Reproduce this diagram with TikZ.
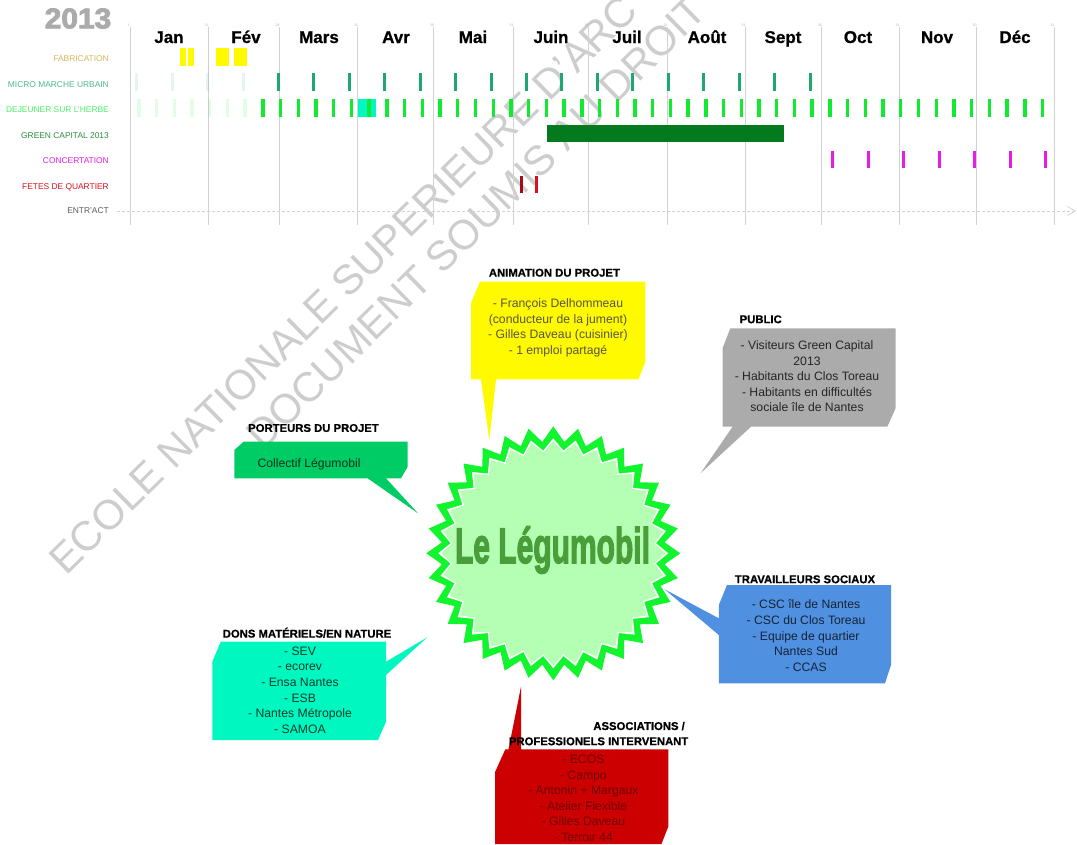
\documentclass[tikz,border=0pt]{standalone}
\usepackage{fontspec}
\setmainfont{Liberation Sans}
\newfontfamily\heavyfont[BoldFeatures={FakeBold=3}]{Liberation Sans}
\newfontfamily\titlefont[BoldFeatures={FakeBold=0.8}]{Liberation Sans}
\usetikzlibrary{shapes.geometric,arrows.meta}

\definecolor{gridgray}{HTML}{D2D2D2}
\definecolor{markgray}{HTML}{CDCDCD}
\definecolor{fabyellow}{HTML}{FFFA00}
\definecolor{fabtan}{HTML}{D4B85A}
\definecolor{microgreen}{HTML}{1EA870}
\definecolor{herbegreen}{HTML}{12EA32}
\definecolor{capitalgreen}{HTML}{047A1E}
\definecolor{concertpink}{HTML}{E81CE8}
\definecolor{festred}{HTML}{D81020}
\definecolor{aqua}{HTML}{00F8C0}
\definecolor{boxgray}{HTML}{ABABAB}
\definecolor{boxgreen}{HTML}{00CC66}
\definecolor{boxblue}{HTML}{5090E0}
\definecolor{boxred}{HTML}{CC0000}
\definecolor{starlight}{HTML}{B4FFB4}
\definecolor{starline}{HTML}{12F52E}
\definecolor{starname}{HTML}{4A9E3A}

\tikzset{
  rowlabel/.style={anchor=east,font=\fontsize{8.4}{9}\selectfont,inner sep=0pt},
  month/.style={anchor=base,font=\titlefont\fontsize{17}{18}\selectfont\bfseries,inner sep=0pt},
  daynum/.style={font=\fontsize{3.5}{4}\selectfont,text=gray!60,inner sep=0pt},
  boxtitle/.style={font=\titlefont\fontsize{11.3}{12}\selectfont\bfseries,inner sep=0pt},
  boxline/.style={anchor=base,font=\fontsize{12.2}{13}\selectfont,inner sep=0pt},
  watermark/.style={font=\fontsize{41.5}{43}\selectfont,text=markgray,rotate=44.5,anchor=base west,inner sep=0pt},
  burst/.style={star,star points=32,inner sep=0pt},
}

\begin{document}
\begin{tikzpicture}[x=1pt,y=-1pt]
        \useasboundingbox (0,0) rectangle (1077,844);
        % filigrane
        \node[watermark] (markA) at (66,577) {ECOLE NATIONALE SUPERIEURE D'ARC};
        \node[watermark] (markB) at (263,452) {DOCUMENT SOUMIS AU DROIT};

        % calendrier
        \node[font=\heavyfont\fontsize{28.5}{30}\selectfont\bfseries,text=boxgray,inner sep=0pt] (year) at (78,18.5) {\scalebox{1.05}[1]{2013}};
        \foreach \x/\d in {130/1,208/31,279/28,357.5/31,433.5/30,513/31,588/30,667/31,745/31,821.5/30,899/31,976/30,1054/31}{
                \draw[gridgray,line width=0.8pt] (\x,27) -- (\x,225);
                \node[daynum] at (\x-1.5,25) {\d};
        }
        \foreach \x/\m in {169/Jan,246/Fév,319/Mars,396/Avr,473/Mai,551/Juin,627/Juil,707/Août,783/Sept,858/Oct,937/Nov,1015/Déc}
                \node[month] (m\m) at (\x,43) {\m};

        \node[rowlabel,text=fabtan] (fab) at (109,59) {FABRICATION};
        \node[rowlabel,text=microgreen!80!white] (micro) at (109,85) {MICRO MARCHE URBAIN};
        \node[rowlabel,text=herbegreen!75!white] (herbe) at (109,110) {DEJEUNER SUR L'HERBE};
        \node[rowlabel,text=capitalgreen!85!white] (capital) at (109,136) {GREEN CAPITAL 2013};
        \node[rowlabel,text=concertpink] (concert) at (109,161) {CONCERTATION};
        \node[rowlabel,text=festred] (fetes) at (109,187) {FETES DE QUARTIER};
        \node[rowlabel,text=black!65] (entract) at (109,211) {ENTR'ACT};

        \fill[fabyellow] (180,48) rectangle (186.2,66);
        \fill[fabyellow] (188,48) rectangle (194,66);
        \fill[fabyellow] (215.5,48) rectangle (229,66);
        \fill[fabyellow] (234,48) rectangle (247,66);

        \foreach \n in {0,...,19}{
                \pgfmathsetmacro\x{136.7+35.44*\n}
                \ifnum\n<4
                        \fill[microgreen,opacity=0.12] (\x-1.5,73) rectangle (\x+1.5,91);
                \else
                        \fill[microgreen] (\x-1.5,73) rectangle (\x+1.5,91);
                \fi
        }
        \fill[aqua] (358,99) rectangle (375.5,117);
        \foreach \n in {0,...,51}{
                \pgfmathsetmacro\x{138.8+17.72*\n}
                \ifnum\n<7
                        \fill[herbegreen,opacity=0.12] (\x-1.7,99) rectangle (\x+1.7,117);
                \else
                        \fill[herbegreen] (\x-1.7,99) rectangle (\x+1.7,117);
                \fi
        }
        \fill[capitalgreen] (547.3,125) rectangle (783.5,142);
        \foreach \x in {832,868,903,939,974,1010,1045}
                \fill[concertpink] (\x-1.5,150.5) rectangle (\x+1.5,167.5);
        \fill[festred!75!black] (519.5,176) rectangle (522.5,193);
        \fill[festred] (534.7,176) rectangle (537.5,193);
        \coordinate (dashA) at (117,211);
        \coordinate (dashB) at (1076,211);
        \draw[-{Straight Barb[length=8pt,width=9pt]},gridgray,densely dashed,line width=0.7pt] (dashA) -- (dashB);

        % etoile
        \node[burst,fill=starline,minimum size=254pt,star point ratio=1.135] (hub) at (553.3,553.3) {};
        \node[burst,fill=white,minimum size=230pt,star point ratio=1.115] (hubA) at (hub) {};
        \node[burst,fill=starlight,minimum size=224pt,star point ratio=1.105] (hubB) at (hub) {};
        \node[text=starname,font=\heavyfont\fontsize{50}{52}\selectfont\bfseries,inner sep=0pt] (name) at (552.5,550) {\scalebox{.6}[1]{Le Légumobil}};

        % bulles
        \fill[fabyellow] (480,281.7) -- (645.4,281.7) -- (645.4,361.7) -- (638.5,379.3) -- (496,379.3) -- (489.3,440) -- (481,379.3) -- (471,379.3) -- (471,303) -- cycle;
        \fill[boxgray] (730.3,328.3) -- (895.6,328.3) -- (895.6,408.3) -- (887.3,426.7) -- (751,426.7) -- (700.5,473.3) -- (732.6,426.7) -- (722.5,426.7) -- (722.5,348.3) -- cycle;
        \fill[boxgreen] (243.6,441.7) -- (407.5,441.7) -- (407.5,467) -- (401,478.3) -- (386,478.3) -- (418,513.3) -- (367.6,478.3) -- (234.4,478.3) -- (234.4,450) -- cycle;
        \fill[aqua] (220.7,641.7) -- (386,641.7) -- (386,661.7) -- (427.3,637.3) -- (386,675) -- (386,721.7) -- (378,740) -- (212.4,740) -- (212.4,661.7) -- cycle;
        \fill[boxblue] (727,585) -- (891,585) -- (891,665) -- (885,683.3) -- (718.8,683.3) -- (718.8,635) -- (664.6,589.3) -- (718.8,618.3) -- (718.8,605) -- cycle;
        \fill[boxred] (505.3,749.3) -- (508.5,749.3) -- (521,686.7) -- (521,749.3) -- (668.3,749.3) -- (668.3,826.7) -- (661.4,844) -- (495.2,844) -- (495.2,771.7) -- cycle;

        \node[boxtitle] (animT) at (554.4,272.7) {ANIMATION DU PROJET};
        \foreach \y/\t in {307.3/- François Delhommeau,323/(conducteur de la jument),338.7/- Gilles Daveau (cuisinier),354.3/- 1 emploi partagé}
                \node[boxline,text=black!75!yellow] at (558,\y) {\t};

        \node[boxtitle,anchor=west] (pubT) at (739.5,319.3) {PUBLIC};
        \foreach \y/\t in {349.3/- Visiteurs Green Capital,365/2013,380.3/- Habitants du Clos Toreau,396/- Habitants en difficultés,411.7/sociale île de Nantes}
                \node[boxline,text=black!85] at (807,\y) {\t};

        \node[boxtitle,anchor=west] (portT) at (248,428) {PORTEURS DU PROJET};
        \node[boxline,anchor=base west,text=black!75!boxgreen] (portL) at (257.4,467) {Collectif Légumobil};

        \node[boxtitle] (donsT) at (307,632.7) {DONS MATÉRIELS/EN NATURE};
        \foreach \y/\t in {655/- SEV,670.7/- ecorev,686.3/- Ensa Nantes,702/- ESB,717.3/- Nantes Métropole,733/- SAMOA}
                \node[boxline,text=black!75!aqua] at (300,\y) {\t};

        \node[boxtitle] (travT) at (805,579.3) {TRAVAILLEURS SOCIAUX};
        \foreach \y/\t in {608.7/- CSC île de Nantes,624.3/- CSC du Clos Toreau,640/- Equipe de quartier,655.3/Nantes Sud,671/- CCAS}
                \node[boxline,text=black!75!boxblue] at (806,\y) {\t};

        \node[boxtitle,anchor=east] (assoT) at (685,726) {ASSOCIATIONS /};
        \node[boxtitle,anchor=east] (profT) at (688.5,741.3) {PROFESSIONELS INTERVENANT};
        \foreach \y/\t in {763.3/- ECOS,779/- Campo,794.7/- Antonin + Margaux,810/- Atelier Flexible,825.7/- Gilles Daveau,841/- Terroir 44}
                \node[boxline,text=boxred!55!black] at (583.4,\y) {\t};
\end{tikzpicture}
\end{document}
